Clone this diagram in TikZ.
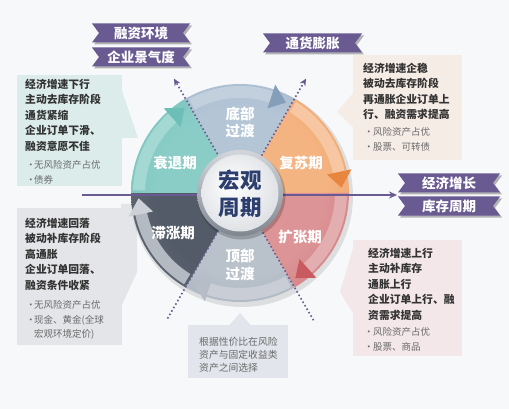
\documentclass[tikz,border=0pt]{standalone}
\usepackage{fontspec}
\setmainfont{Noto Sans CJK SC}
\usetikzlibrary{calc,arrows.meta}
\definecolor{bgcol}{HTML}{F7F8FA}
\definecolor{rib}{HTML}{6A5A92}
\definecolor{boxTL}{HTML}{DBECEA}
\definecolor{boxTR}{HTML}{F6ECE6}
\definecolor{boxBL}{HTML}{E4E5E8}
\definecolor{boxBR}{HTML}{F3E7E9}
\definecolor{boxBC}{HTML}{E2E5EB}
\definecolor{txtdark}{HTML}{333333}
\definecolor{txtgray}{HTML}{6A6A6A}
\definecolor{hubtxt}{HTML}{2C3E6E}
\definecolor{hubmid}{HTML}{E6E8EB}
\definecolor{hubout}{HTML}{C3C8CE}
\definecolor{rimA}{HTML}{D3D7DC}
\definecolor{rimB}{HTML}{7E8690}
\colorlet{secA}{white}
\colorlet{secB}{gray}
\colorlet{bandc}{gray}
\colorlet{headc}{gray}
\pgfdeclareradialshading[secA,secB]{secshade}{\pgfpoint{0bp}{0bp}}{color(0bp)=(secA); color(19bp)=(secA); color(50bp)=(secB)}
\pgfdeclareradialshading{hubshade}{\pgfpoint{-6bp}{6bp}}{color(0bp)=(white); color(22bp)=(hubmid); color(50bp)=(hubout)}
\newcommand\wheelseg[6]{%
  \definecolor{secA}{HTML}{#3}\definecolor{secB}{HTML}{#4}%
  \definecolor{bandc}{HTML}{#5}\definecolor{headc}{HTML}{#6}%
  \begin{scope}
    \clip ($(C)+(#1:40)$) arc[start angle=#1, end angle=#2, radius=40]
      -- ($(C)+(#2:109)$) arc[start angle=#2, end angle=#1, radius=109] -- cycle;
    \shade[shading=secshade] (C) circle (109);
  \end{scope}
  \fill[bandc] ($(C)+(#1+1.5:95)$) arc[start angle=#1+1.5, end angle=#2-11, radius=95]
      -- ($(C)+(#2-11:107)$) arc[start angle=#2-11, end angle=#1+1.5, radius=107] -- cycle;
  \fill[headc] ($(C)+(#2-12:89)$) -- ($(C)+(#2-3:101.5)$) -- ($(C)+(#2-12:114)$) -- cycle;
}
\newcommand\ribbonbar[5]{%
  \fill[black,opacity=.28] (#2+2,#4-7.5) -- (#3+2,#4-7.5) -- (#3-5,#4+2) -- (#3+2,#4+11.5) -- (#2+2,#4+11.5) -- (#2+9,#4+2) -- cycle;
  \fill[rib] (#2,#4-9.5) -- (#3,#4-9.5) -- (#3-7,#4) -- (#3,#4+9.5) -- (#2,#4+9.5) -- (#2+7,#4) -- cycle;
  \node[ribtext] (#1) at ({(#2+#3)/2},#4) {#5};
}
\begin{document}
\begin{tikzpicture}[x=1pt,y=-1pt,
  ribtext/.style={text=white, font=\fontsize{13.5}{14}\selectfont\bfseries, inner sep=0},
  segtext/.style={text=white, font=\fontsize{14.5}{17.5}\selectfont\bfseries, align=center, inner sep=0},
  boldlines/.style={anchor=north west, align=left, text=txtdark, font=\fontsize{10.8}{15.6}\selectfont\bfseries, inner sep=0},
  bulletlines/.style={anchor=north west, align=left, text=txtgray, font=\fontsize{9.5}{14.3}\selectfont, inner sep=0},
  dotarrow/.style={rib, dash pattern=on 1.6pt off 2.4pt, line width=1.6pt, -{Stealth[length=7pt,width=6.5pt]}},
]
\useasboundingbox (0,0) rectangle (509,409);
\fill[bgcol] (0,0) rectangle (509,409);
\coordinate (C) at (240,193);

% ---- callout boxes
\fill[boxTL] (17,75) rectangle (122,186);
\fill[boxTL] (121,88) -- (138,138) -- (121,138) -- cycle;
\fill[boxTR] (353,55) rectangle (462,160);
\fill[boxTR] (354,92) -- (337,112) -- (354,128) -- cycle;
\fill[boxBL] (17,208) rectangle (122,345);
\fill[boxBL] (121,204) -- (137,204) -- (137,272) -- (121,307) -- cycle;
\fill[boxBR] (353,240) rectangle (462,356);
\fill[boxBR] (354,245) -- (340,292) -- (354,315) -- cycle;
\fill[boxBC] (188,325) rectangle (288,378);
\fill[boxBC] (229,325.5) -- (240,313) -- (251,325.5) -- cycle;

% ---- ribbons
\ribbonbar{r1}{92}{190}{33}{融资环境}
\ribbonbar{r2}{92}{190}{57}{企业景气度}
\ribbonbar{r3}{263}{362}{43}{通货膨胀}
\ribbonbar{r4}{398}{500}{183}{经济增长}
\ribbonbar{r5}{398}{500}{206}{库存周期}

% ---- wheel
\fill[black,opacity=.10] ($(C)+(2,3)$) circle (111);
\wheelseg{-120}{-60}{B4C5D6}{8EA6BF}{C2D0DE}{859FBA}
\wheelseg{-60}{0}{F4B482}{E98C48}{F6C7A2}{E8853E}
\wheelseg{0}{60}{DC9496}{C25A60}{E2AEB0}{C85A60}
\wheelseg{60}{120}{B9C1CB}{8F9AA8}{C9CED6}{B6BDC7}
\wheelseg{120}{180}{525B67}{7E8792}{B4BAC2}{CDD1D7}
\wheelseg{180}{240}{8ACDC7}{5DB3AC}{A3D8D3}{6CBEB7}

% ---- axis and dotted diagonals
\coordinate (axL) at (82,195);
\coordinate (axR) at (397,195);
\draw[rib, line width=1.4pt, -{Stealth[length=8pt,width=7pt]}] (axL) -- (axR);
\coordinate (d1s) at ($(C)+(120:145)$);
\coordinate (d1e) at ($(C)+(-60:132)$);
\coordinate (d2s) at ($(C)+(60:147)$);
\coordinate (d2e) at ($(C)+(-120:132)$);
\draw[dotarrow] (d1s) -- (d1e);
\draw[dotarrow] (d2s) -- (d2e);

% ---- hub
\fill[black,opacity=.2] ($(C)+(1.5,2.5)$) circle (44);
\shade[top color=rimA, bottom color=rimB] (C) circle (43);
\shade[shading=hubshade] (C) circle (38.5);
\node[align=center, text=hubtxt, font=\fontsize{21.5}{27}\selectfont\bfseries, inner sep=0] (hub) at (240,194) {宏观\\周期};

% ---- segment labels
\node[segtext] (s1) at (240,122.5) {底部\\过渡};
\node[segtext] (s2) at (301,163) {复苏期};
\node[segtext] (s3) at (300,237) {扩张期};
\node[segtext] (s4) at (240,265) {顶部\\过渡};
\node[segtext] (s5) at (173,233) {滞涨期};
\node[segtext] (s6) at (175,163) {衰退期};

% ---- box texts
\node[boldlines] (tl) at (25,78.6) {经济增速下行\\主动去库存阶段\\通货紧缩\\企业订单下滑、\\融资意愿不佳};
\node[bulletlines] (tlb) at (26,160.5) {\makebox[8pt][l]{•}无风险资产占优\\\makebox[8pt][l]{•}债券};

\node[boldlines] (tr) at (363,62.6) {经济增速企稳\\被动去库存阶段\\再通胀企业订单上\\行、融资需求提高};
\node[bulletlines] (trb) at (364,127.5) {\makebox[9pt][l]{•}风险资产占优\\\makebox[9pt][l]{•}股票、可转债};

\node[boldlines] (bl) at (25,217.6) {经济增速回落\\被动补库存阶段\\高通胀\\企业订单回落、\\融资条件收紧};
\node[bulletlines] (blb) at (26,300.5) {\makebox[8pt][l]{•}无风险资产占优\\\makebox[8pt][l]{•}现金、黄金(全球\\\hspace*{8pt}宏观环境定价)};

\node[boldlines] (br) at (368,247.6) {经济增速上行\\主动补库存\\通胀上行\\企业订单上行、融\\资需求提高};
\node[bulletlines] (brb) at (364,327.5) {\makebox[9pt][l]{•}风险资产占优\\\makebox[9pt][l]{•}股票、商品};

\node[anchor=north west, align=left, text=txtgray, font=\fontsize{9.8}{13}\selectfont, inner sep=0] (bc) at (199,337.2) {根据性价比在风险\\资产与固定收益类\\资产之间选择};
\end{tikzpicture}
\end{document}
